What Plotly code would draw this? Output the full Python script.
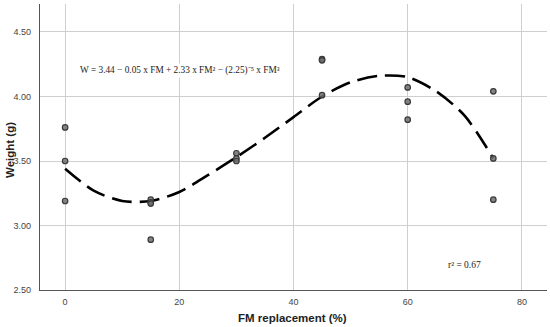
import plotly.graph_objects as go

# Observed data
fm_x = [0, 0, 0, 15, 15, 15, 15, 30, 30, 30, 45, 45, 45, 60, 60, 60, 75, 75, 75]
weight_y = [3.76, 3.50, 3.19, 3.20, 3.18, 3.17, 2.89, 3.56, 3.52, 3.50,
            4.29, 4.28, 4.01, 4.07, 3.96, 3.82, 4.04, 3.52, 3.20]

# Fitted curve
fit_x = [0, 5, 10, 15, 20, 25, 30, 35, 40, 45, 50, 55, 60, 65, 70, 75]
fit_y = [3.44, 3.27, 3.19, 3.19, 3.26, 3.39, 3.53, 3.68, 3.84, 4.00,
         4.11, 4.16, 4.15, 4.04, 3.85, 3.52]

x_ticks = [0, 20, 40, 60, 80]
y_ticks = [2.5, 3.0, 3.5, 4.0, 4.5]

serif = "Book Antiqua, Palatino Linotype, Liberation Serif, serif"
sans = "Liberation Sans, Arial, sans-serif"

fig = go.Figure()
fig.add_trace(go.Scatter(
    x=fit_x, y=fit_y, mode="lines",
    line=dict(color="black", width=2.6, dash="20px,8px", shape="spline", smoothing=0.8),
    hoverinfo="skip", showlegend=False))
fig.add_trace(go.Scatter(
    x=fm_x, y=weight_y, mode="markers",
    marker=dict(size=5.5, color="rgba(110,110,110,0.85)", line=dict(color="#3a3a3a", width=1.2)),
    showlegend=False))

fig.add_annotation(x=0.075, y=0.767, xref="paper", yref="paper", xanchor="left", yanchor="middle",
                   text="W = 3.44 − 0.05 x FM + 2.33 x FM² − (2.25)⁻⁵ x FM³",
                   showarrow=False, bgcolor="white",
                   font=dict(family=serif, size=9.3, color="#222"))
fig.add_annotation(x=70, y=2.69, xref="x", yref="y", xanchor="center", yanchor="middle",
                   text="r² = 0.67", showarrow=False,
                   font=dict(family=serif, size=9.5, color="#222"))
# axis titles
fig.add_annotation(x=0.499, y=-0.098, xref="paper", yref="paper", xanchor="center", yanchor="middle",
                   text="<b>FM replacement (%)</b>", showarrow=False,
                   font=dict(family=sans, size=11.5, color="#222"))
fig.add_annotation(x=-0.059, y=0.49, xref="paper", yref="paper", xanchor="center", yanchor="middle",
                   text="<b>Weight (g)</b>", showarrow=False, textangle=-90,
                   font=dict(family=sans, size=11.5, color="#222"))

fig.update_xaxes(range=[-4.4, 84.4], tickvals=x_ticks, ticktext=[str(v) for v in x_ticks],
                 showgrid=True, gridcolor="#cfcfcf", gridwidth=1, zeroline=False,
                 showline=True, linecolor="#555", linewidth=1.2,
                 ticks="outside", ticklen=3, tickcolor="rgba(0,0,0,0)",
                 tickfont=dict(family=sans, size=9, color="#444"))
fig.update_yaxes(range=[2.5, 4.717], tickvals=y_ticks, ticktext=[f"{v:.2f}" for v in y_ticks],
                 showgrid=True, gridcolor="#cfcfcf", gridwidth=1, zeroline=False,
                 showline=True, linecolor="#555", linewidth=1.2,
                 ticks="outside", ticklen=6, tickcolor="rgba(0,0,0,0)",
                 tickfont=dict(family=sans, size=9, color="#444"))

fig.update_layout(width=550, height=327, margin=dict(l=40, r=3, t=4, b=37),
                  plot_bgcolor="white", paper_bgcolor="white")
fig.write_html("out.html", config={"displayModeBar": False},
               post_script="document.body.style.margin='0';")
